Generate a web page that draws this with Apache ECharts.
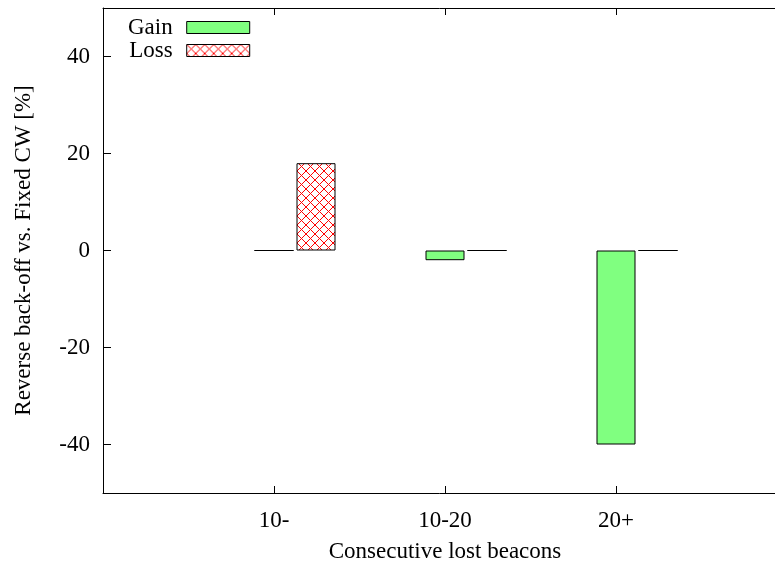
<!DOCTYPE html>
<html><head><meta charset="utf-8">
<script src="https://cdn.jsdelivr.net/npm/echarts@6/dist/echarts.min.js"></script>
<style>html,body{margin:0;padding:0;background:#fff}#c{width:775px;height:568px}</style>
</head><body><div id="c"></div>
<script>
const categories = ['10-', '10-20', '20+'];
const categoryPositions = [1, 2, 3];
const gainValues = [0, -2, -40];
const lossValues = [18, 0, 0];
const yTickValues = [-40, -20, 0, 20, 40];
const seriesNames = ['Gain', 'Loss'];

const FONT = 'Liberation Serif';
const FS = 23;

function makePattern() {
  const s = 9;
  const cv = document.createElement('canvas');
  cv.width = s; cv.height = s;
  const ctx = cv.getContext('2d');
  ctx.fillStyle = '#ffffff'; ctx.fillRect(0, 0, s, s);
  ctx.fillStyle = '#ff0000';
  for (let i = 0; i < s; i++) {
    ctx.fillRect(i, i, 1, 1);
    ctx.fillRect(s - 1 - i, i, 1, 1);
  }
  return cv;
}
const lossFill = { image: makePattern(), repeat: 'repeat' };
const gainFill = '#80ff80';

const chart = echarts.init(document.getElementById('c'), null, { renderer: 'canvas' });
const txt = { fontFamily: FONT, fontSize: FS, color: '#000' };

chart.setOption({
  animation: false,
  backgroundColor: '#fff',
  textStyle: { fontFamily: FONT },
  grid: [
    { left: 103, top: 8, right: -12, bottom: 75, outerBoundsMode: 'none', containLabel: false, show: false },
    { left: 145, top: 8, right: -54, bottom: 75, outerBoundsMode: 'none', containLabel: false, show: false }
  ],
  legend: {
    orient: 'vertical', align: 'right', left: 128, top: 16, padding: 0, itemGap: 0,
    itemWidth: 63, itemHeight: 12,
    textStyle: Object.assign({ lineHeight: 23, padding: [0, 9, 0, 0] }, txt),
    data: [
      { name: seriesNames[0], icon: 'rect', itemStyle: { color: gainFill, borderColor: '#000', borderWidth: 1 } },
      { name: seriesNames[1], icon: 'rect', itemStyle: { color: lossFill, borderColor: '#000', borderWidth: 1 } }
    ]
  },
  xAxis: [
    {
      gridIndex: 0, type: 'value', min: 0, max: 4, position: 'bottom',
      name: 'Consecutive lost beacons', nameLocation: 'middle', nameGap: 47,
      nameTextStyle: txt,
      axisLine: { show: true, onZero: false, lineStyle: { color: '#000', width: 1 } },
      axisTick: { show: true, inside: true, length: 7, lineStyle: { color: '#000' }, customValues: categoryPositions },
      axisLabel: Object.assign({ margin: 16, customValues: categoryPositions,
        formatter: v => { const i = categoryPositions.indexOf(v); return i >= 0 ? categories[i] : ''; } }, txt),
      splitLine: { show: false }
    },
    {
      gridIndex: 0, type: 'value', min: 0, max: 4, position: 'top',
      axisLine: { show: true, onZero: false, lineStyle: { color: '#000', width: 1 } },
      axisTick: { show: true, inside: true, length: 7, lineStyle: { color: '#000' }, customValues: categoryPositions },
      axisLabel: { show: false },
      splitLine: { show: false }
    },
    { gridIndex: 1, type: 'value', min: 0, max: 4, show: false, axisLine: { onZero: false }, splitLine: { show: false } }
  ],
  yAxis: [
    {
      gridIndex: 0, type: 'value', min: -50, max: 50,
      name: 'Reverse back-off vs. Fixed CW [%]', nameLocation: 'middle', nameGap: 68, nameRotate: 90,
      nameTextStyle: txt,
      axisLine: { show: true, onZero: false, lineStyle: { color: '#000', width: 1 } },
      axisTick: { show: true, inside: true, length: 8, lineStyle: { color: '#000' }, customValues: yTickValues },
      axisLabel: Object.assign({ margin: 13, customValues: yTickValues }, txt),
      splitLine: { show: false }
    },
    { gridIndex: 1, type: 'value', min: -50, max: 50, show: false, axisLine: { onZero: false }, splitLine: { show: false } }
  ],
  series: [
    {
      name: seriesNames[0], type: 'bar', xAxisIndex: 0, yAxisIndex: 0, barWidth: 39,
      itemStyle: { color: gainFill, borderColor: '#000', borderWidth: 1 },
      data: categoryPositions.map((x, i) => [x, gainValues[i]])
    },
    {
      name: seriesNames[1], type: 'bar', xAxisIndex: 2, yAxisIndex: 1, barWidth: 39,
      itemStyle: { color: lossFill, borderColor: '#000', borderWidth: 1 },
      data: categoryPositions.map((x, i) => [x, lossValues[i]])
    }
  ]
});
</script>
</body></html>
